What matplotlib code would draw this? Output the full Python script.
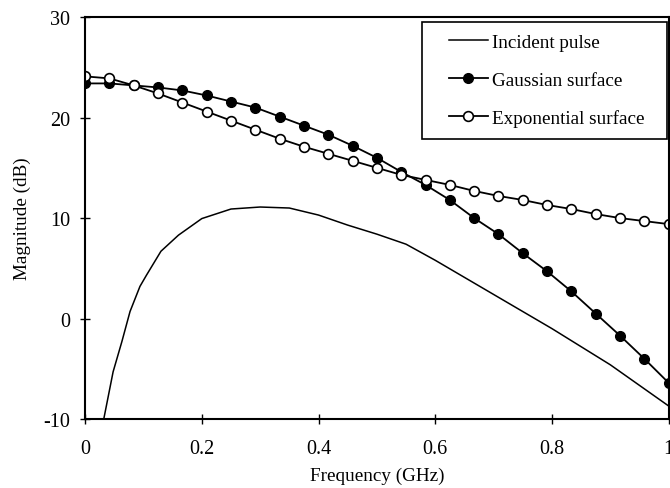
import matplotlib
matplotlib.use('Agg')
import matplotlib.pyplot as plt
from matplotlib.legend_handler import HandlerLine2D
import numpy as np

plt.rcParams['font.family'] = ['Liberation Serif', 'DejaVu Serif']
plt.rcParams['axes.unicode_minus'] = False

# frequency grid of the marked series (25 points, 0..1 GHz)
freq = np.linspace(0, 1, 25)

gaussian = [23.4, 23.4, 23.2, 23.0, 22.7, 22.2, 21.6, 21.0, 20.1, 19.2, 18.3,
            17.2, 16.0, 14.6, 13.3, 11.8, 10.0, 8.4, 6.5, 4.7, 2.7, 0.5,
            -1.7, -4.0, -6.4]

exponential = [24.1, 23.9, 23.2, 22.4, 21.5, 20.6, 19.7, 18.8, 17.9, 17.1, 16.4,
               15.7, 15.0, 14.3, 13.8, 13.3, 12.7, 12.2, 11.8, 11.3, 10.9, 10.4,
               10.0, 9.7, 9.4]

pulse_freq = [0.032, 0.048, 0.063, 0.077, 0.094, 0.105, 0.13, 0.16, 0.2, 0.25,
              0.3, 0.35, 0.4, 0.45, 0.5, 0.55, 0.6, 0.7, 0.8, 0.9, 1.0]
pulse = [-10.0, -5.3, -2.3, 0.7, 3.2, 4.3, 6.7, 8.3, 9.95, 10.9,
         11.1, 11.0, 10.3, 9.3, 8.4, 7.4, 5.8, 2.4, -1.0, -4.6, -8.7]

xticks = [0, 0.2, 0.4, 0.6, 0.8, 1]
xticklabels = ['0', '0.2', '0.4', '0.6', '0.8', '1']
yticks = [-10, 0, 10, 20, 30]


def main():
    fig = plt.figure(figsize=(6.7, 4.89), dpi=100)
    ax = fig.add_axes([0.127, 0.141, 0.871, 0.822])

    ax.plot(pulse_freq, pulse, color='black', lw=1.1, label='Incident pulse')
    ax.plot(freq, gaussian, color='black', lw=1.3, marker='o', ms=7,
            mfc='black', mec='black', label='Gaussian surface')
    ax.plot(freq, exponential, color='black', lw=1.3, marker='o', ms=7,
            mfc='white', mec='black', mew=1.2, label='Exponential surface')

    ax.set_xlim(0, 1)
    ax.set_ylim(-10, 30)
    ax.set_xticks(xticks)
    ax.set_xticklabels(xticklabels)
    ax.set_yticks(yticks)
    ax.tick_params(direction='inout', length=7, width=1, labelsize=14.5,
                   colors='black')
    ax.tick_params(axis='x', pad=11)
    ax.tick_params(axis='y', pad=7.2)
    for s in ax.spines.values():
        s.set_linewidth(1.5)

    ax.set_xlabel('Frequency (GHz)', fontsize=13.8)
    ax.set_ylabel('Magnitude (dB)', fontsize=13.8)
    ax.xaxis.set_label_coords(0.5, -0.119)
    ax.yaxis.set_label_coords(-0.0925, 0.5)

    hmap = {h: HandlerLine2D(xpad=0.81) for h in ax.get_lines()}
    leg = ax.legend(loc='upper right', bbox_to_anchor=(0.577, 0.692, 0.42, 0.296),
                    mode='expand', borderaxespad=0, fontsize=13.8, frameon=True,
                    fancybox=False, edgecolor='black', framealpha=1,
                    handlelength=2.84, handletextpad=0.2, labelspacing=1.07,
                    borderpad=0.6, handler_map=hmap)
    leg.get_frame().set_linewidth(1.2)

    fig.savefig('out.png', dpi=100)


if __name__ == '__main__':
    main()
